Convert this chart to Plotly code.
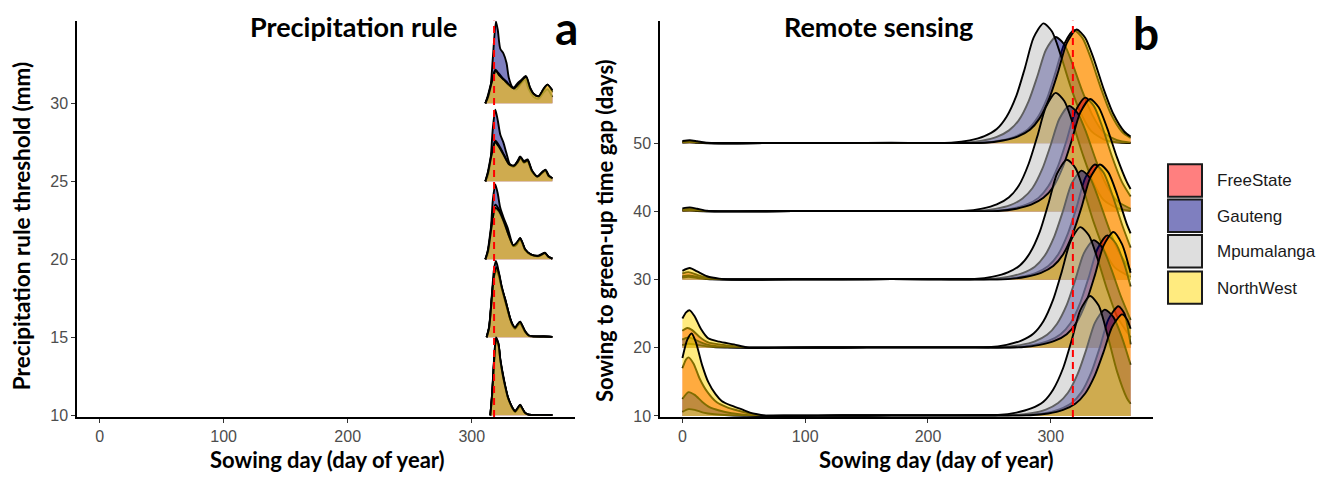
import plotly.graph_objects as go

W, H = 1325, 479

REGIONS = ["FreeState", "Gauteng", "Mpumalanga", "NorthWest"]
FILLS = ["rgba(255,0,0,0.5)", "rgba(0,0,128,0.5)", "rgba(190,190,190,0.5)", "rgba(255,215,0,0.5)"]

A_THRESHOLDS = [30, 25, 20, 15, 10]
B_GAPS = [50, 40, 30, 20, 10]
X_TICKS = [0, 100, 200, 300]
A_YTICKS = [10, 15, 20, 25, 30]
B_YTICKS = [10, 20, 30, 40, 50]
REF_DAY = 318

# ---- Panel a: precipitation rule, (day, density height) per region ----
A30_FS = [(311,0),(313,0.4),(316,1.3),(319,2.1),(322,1.9),(325,1.6),(328,1.4),(331,1.1),(334,1.0),(337,1.3),(340,1.5),(343,1.7),(346,1.0),(350,0.6),(354,0.45),(358,0.9),(361,1.2),(365,0.7)]
A30_GA = [(311,0),(313,0.3),(315,0.9),(317,2.9),(319.5,5.25),(321,4.7),(323,3.5),(325.5,3.2),(328,2.6),(330,1.6),(333,1.0),(336,0.9),(340,1.3),(343,1.5),(346,0.9),(350,0.4),(354,0.3),(358,0.7),(361,0.9),(365,0.4)]
A30_MP = [(311,0),(313,0.5),(316,1.4),(319,2.15),(322,1.85),(326,1.5),(330,1.15),(333,1.0),(336,1.05),(340,1.4),(343.5,1.75),(347,1.0),(350,0.6),(354,0.46),(358,0.9),(361,1.2),(365,0.8)]
A30_NW = [(311,0),(313,0.4),(316,1.3),(319.5,2.1),(322,1.8),(326,1.5),(330,1.2),(334,0.95),(337,1.2),(340,1.45),(344,1.7),(347,1.0),(350,0.6),(354,0.45),(358,0.95),(361,1.2),(365,0.85)]

A25_FS = [(311,0),(313,0.5),(316,1.6),(319,2.5),(322,2.2),(326,1.6),(330,1.15),(334,1.0),(337,1.3),(339,1.6),(342,1.3),(345,1.4),(348.5,0.7),(353,0.32),(357,0.6),(359.5,0.75),(362,0.4),(365,0.2)]
A25_GA = [(311,0),(313,0.3),(315,1.2),(317,3.4),(319,4.6),(321,3.9),(323,3.0),(325.5,2.5),(328,1.8),(331,1.05),(334,1.0),(337,1.3),(339,1.55),(342,1.2),(345,1.35),(348.5,0.6),(353,0.3),(357,0.6),(359,0.72),(362,0.3),(365,0.15)]
A25_MP = [(311,0),(313,0.6),(316,1.8),(319,2.6),(322,2.3),(326,1.7),(330,1.1),(334,0.95),(337,1.2),(339.5,1.5),(342,1.2),(345,1.3),(348.5,0.65),(353,0.3),(357,0.55),(359.5,0.7),(362,0.35),(365,0.2)]
A25_NW = [(311,0),(313,0.5),(316,1.7),(319,2.5),(322,2.2),(326,1.65),(330,1.1),(334,1.0),(337,1.25),(339.5,1.55),(342,1.25),(345,1.35),(348.5,0.7),(353,0.3),(357,0.6),(359.5,0.72),(362,0.35),(365,0.2)]

A20_FS = [(311,0),(313,0.5),(316,2.0),(319,3.2),(322,3.0),(326,2.3),(330,1.5),(333.5,0.9),(336,1.0),(339,1.3),(341,1.0),(343,0.65),(348,0.3),(354,0.22),(359,0.4),(362,0.15),(365,0.05)]
A20_GA = [(311,0),(313,0.3),(315,1.4),(317,3.8),(319,4.8),(321,4.2),(323,3.3),(326,2.6),(329,2.0),(331,1.45),(333.5,0.85),(336,0.9),(339,1.37),(341,1.0),(343,0.6),(348,0.3),(354,0.25),(359,0.42),(362,0.15),(365,0.05)]
A20_MP = [(311,0),(313,0.6),(316,2.3),(319,3.5),(322,3.2),(326,2.4),(330,1.5),(333.5,0.85),(336,0.95),(339,1.3),(341,1.0),(343,0.6),(348,0.28),(354,0.2),(359,0.38),(362,0.15),(365,0.05)]
A20_NW = [(311,0),(313,0.5),(316,2.1),(319,3.3),(322,3.1),(326,2.4),(330,1.5),(333.5,0.9),(336,1.05),(339,1.35),(341,1.05),(343,0.65),(348,0.3),(354,0.22),(359,0.4),(362,0.15),(365,0.05)]

A15_FS = [(312,0),(314,0.6),(316,2.3),(318,3.9),(320,4.4),(322,4.0),(324,3.3),(327,2.4),(329,1.8),(331,1.2),(333,0.8),(335,0.6),(337,0.8),(339,0.95),(341,0.7),(343,0.38),(346,0.12),(350,0.06),(358,0.05),(365,0.03)]
A15_GA = [(312,0),(314,0.6),(316,2.5),(318,4.4),(319.5,4.9),(321,4.5),(323,3.6),(325,2.9),(327,2.45),(329,1.8),(331,1.2),(333,0.8),(335,0.6),(337,0.8),(339,1.0),(341,0.7),(343,0.38),(346,0.12),(350,0.06),(358,0.05),(365,0.03)]
A15_MP = [(312,0),(314,0.7),(316,2.4),(318,3.9),(320,4.3),(322,3.9),(324,3.2),(327,2.3),(329,1.7),(331,1.15),(333,0.75),(335,0.55),(337,0.75),(339,0.9),(341,0.65),(343,0.35),(346,0.1),(350,0.05),(358,0.05),(365,0.03)]
A15_NW = [(312,0),(314,0.6),(316,2.3),(318,4.0),(320,4.5),(322,4.1),(324,3.3),(327,2.4),(329,1.8),(331,1.2),(333,0.8),(335,0.62),(337,0.85),(339,1.0),(341,0.72),(343,0.4),(346,0.12),(350,0.06),(358,0.05),(365,0.03)]

A10_FS = [(315,0),(316.5,1.4),(318,3.4),(319.6,4.8),(321.5,4.5),(323,3.5),(325,2.6),(327,1.8),(329,1.15),(331,0.75),(333,0.45),(335,0.25),(337,0.45),(339,0.65),(341,0.4),(343,0.15),(346,0.05),(355,0.03),(365,0.02)]
A10_GA = [(315,0),(316.5,1.5),(318,3.6),(319.6,5.0),(321.5,4.6),(323,3.5),(325,2.6),(327,1.83),(329,1.2),(331,0.78),(333,0.45),(335,0.25),(337,0.45),(339,0.67),(341,0.4),(343,0.15),(346,0.05),(355,0.03),(365,0.02)]
A10_MP = [(315,0),(316.5,1.3),(318,3.3),(319.6,4.7),(321.5,4.5),(323,3.6),(325,2.7),(327,1.9),(329,1.2),(331,0.75),(333,0.42),(335,0.22),(337,0.4),(339,0.6),(341,0.38),(343,0.14),(346,0.05),(355,0.03),(365,0.02)]
A10_NW = [(315,0),(316.5,1.4),(318,3.5),(319.6,4.9),(321.5,4.6),(323,3.6),(325,2.6),(327,1.85),(329,1.2),(331,0.78),(333,0.46),(335,0.26),(337,0.47),(339,0.68),(341,0.42),(343,0.16),(346,0.05),(355,0.03),(365,0.02)]

# ---- Panel b: remote sensing ----
B50_FS = [(0,0.25),(6,0.35),(12,0.2),(20,0.05),(45,0.02),(90,0.05),(130,0.05),(170,0.06),(210,0.06),(244,0.08),(259,0.42),(271,1.0),(281,2.0),(289,3.7),(297,6.6),(304,10.5),(311,14.6),(319,16.6),(326,15.4),(333,12.3),(341,8.0),(349,4.3),(358,1.7),(365,0.8)]
B50_GA = [(0,0.15),(6,0.2),(12,0.1),(20,0.03),(45,0.02),(90,0.05),(130,0.05),(170,0.07),(205,0.06),(229,0.08),(244,0.39),(256,0.94),(266,1.9),(274,3.4),(282,6.2),(289,9.8),(296,13.7),(304,15.6),(311,14.5),(318,11.5),(326,7.5),(334,4.1),(343,1.6),(354,0.47),(365,0.1)]
B50_MP = [(0,0.1),(6,0.15),(12,0.08),(20,0.02),(45,0.02),(90,0.05),(130,0.04),(170,0.08),(200,0.06),(219,0.1),(234,0.44),(246,1.06),(256,2.1),(264,3.9),(272,7.0),(279,11.1),(286,15.5),(294,17.6),(301,16.4),(308,13.0),(316,8.4),(324,4.6),(333,1.8),(344,0.5),(356,0.1),(365,0.03)]
B50_NW = [(0,0.35),(6,0.45),(12,0.3),(20,0.08),(30,0.02),(50,0.02),(90,0.05),(130,0.05),(170,0.07),(215,0.06),(246,0.08),(261,0.42),(273,1.0),(283,2.0),(291,3.7),(299,6.7),(306,10.5),(313,14.7),(321,16.7),(328,15.5),(335,12.4),(343,8.0),(351,4.3),(360,1.7),(365,1.0)]

B40_FS = [(0,0.3),(6,0.4),(12,0.25),(20,0.06),(45,0.02),(90,0.05),(130,0.05),(170,0.07),(225,0.06),(253,0.08),(268,0.42),(280,1.0),(290,2.0),(298,3.7),(306,6.7),(313,10.5),(320,14.7),(328,16.7),(335,15.5),(342,12.4),(350,8.0),(358,4.3),(365,2.2)]
B40_GA = [(0,0.2),(6,0.25),(12,0.15),(20,0.04),(45,0.02),(90,0.05),(130,0.05),(170,0.07),(215,0.06),(240,0.08),(255,0.39),(267,0.93),(277,1.9),(285,3.4),(293,6.2),(300,9.8),(307,13.6),(315,15.5),(322,14.4),(329,11.5),(337,7.4),(345,4.0),(354,1.55),(365,0.4)]
B40_MP = [(0,0.1),(6,0.15),(12,0.08),(20,0.02),(45,0.02),(90,0.05),(130,0.06),(170,0.08),(205,0.07),(229,0.09),(244,0.43),(256,1.04),(266,2.1),(274,3.8),(282,7.0),(289,11.0),(296,15.3),(304,17.4),(311,16.2),(318,12.9),(326,8.4),(334,4.5),(343,1.7),(354,0.5),(365,0.1)]
B40_NW = [(0,0.45),(6,0.6),(12,0.4),(20,0.1),(30,0.02),(50,0.02),(90,0.05),(130,0.05),(170,0.07),(230,0.06),(257,0.08),(272,0.41),(284,1.0),(294,2.0),(302,3.6),(310,6.6),(317,10.4),(324,14.5),(332,16.5),(339,15.3),(346,12.2),(354,7.9),(362,4.3),(365,3.3)]

B30_FS = [(0,0.9),(5,1.1),(12,0.7),(20,0.3),(30,0.08),(50,0.02),(90,0.05),(130,0.05),(170,0.07),(230,0.06),(261,0.08),(276,0.42),(288,1.0),(298,2.0),(306,3.7),(314,6.8),(321,10.6),(328,14.9),(336,16.9),(343,15.7),(350,12.5),(358,8.1),(365,4.7)]
B30_GA = [(0,0.5),(5,0.6),(12,0.4),(20,0.15),(30,0.04),(50,0.02),(90,0.05),(130,0.05),(170,0.07),(220,0.06),(250,0.08),(265,0.4),(277,0.96),(287,1.9),(295,3.5),(303,6.4),(310,10.1),(317,14.1),(325,16.0),(332,14.9),(339,11.8),(347,7.7),(355,4.2),(365,1.4)]
B30_MP = [(0,0.3),(5,0.4),(12,0.25),(20,0.08),(35,0.02),(90,0.05),(130,0.06),(170,0.08),(210,0.07),(238,0.09),(253,0.44),(265,1.06),(275,2.1),(283,3.9),(291,7.0),(298,11.1),(305,15.5),(313,17.6),(320,16.4),(327,13.0),(335,8.4),(343,4.6),(352,1.8),(365,0.4)]
B30_NW = [(0,1.3),(6,1.7),(12,1.2),(20,0.5),(30,0.15),(40,0.03),(60,0.02),(90,0.05),(130,0.05),(170,0.07),(235,0.06),(265,0.08),(280,0.42),(292,1.0),(302,2.0),(310,3.7),(318,6.8),(325,10.6),(332,14.9),(340,16.9),(347,15.7),(354,12.5),(362,8.1),(365,6.8)]

B20_FS = [(0,2.5),(4,2.9),(8,2.6),(14,1.6),(21,0.8),(30,0.5),(42,0.25),(53,0.03),(75,0.02),(110,0.05),(150,0.06),(190,0.07),(240,0.07),(271,0.08),(286,0.41),(298,1.0),(308,2.0),(316,3.6),(324,6.6),(331,10.4),(338,14.5),(346,16.5),(353,15.3),(360,12.2),(365,9.0)]
B20_GA = [(0,1.2),(4,1.5),(9,1.3),(15,0.8),(22,0.4),(32,0.2),(45,0.05),(70,0.02),(110,0.05),(150,0.06),(190,0.07),(230,0.07),(260,0.08),(275,0.4),(287,0.95),(297,1.9),(305,3.5),(313,6.3),(320,10.0),(327,13.9),(335,15.8),(342,14.7),(349,11.7),(357,7.6),(365,4.1)]
B20_MP = [(0,0.4),(5,0.6),(10,0.5),(17,0.3),(25,0.12),(40,0.03),(70,0.02),(110,0.05),(150,0.06),(190,0.07),(222,0.07),(249,0.09),(264,0.44),(276,1.06),(286,2.1),(294,3.9),(302,7.1),(309,11.2),(316,15.6),(324,17.7),(331,16.5),(338,13.1),(346,8.5),(354,4.6),(365,1.5)]
B20_NW = [(0,4.3),(3,5.2),(6,5.5),(10,4.6),(15,2.8),(21,1.4),(30,0.9),(42,0.5),(53,0.05),(75,0.02),(110,0.05),(150,0.06),(190,0.07),(245,0.07),(276,0.09),(291,0.43),(303,1.0),(313,2.0),(321,3.7),(329,6.8),(336,10.7),(343,15.0),(351,17.0),(358,15.2),(365,11.0)]

B10_FS = [(0,7.0),(3,8.3),(5,8.6),(9,7.7),(14,5.5),(20,3.6),(28,2.0),(36,1.3),(45,0.8),(55,0.35),(65,0.05),(90,0.04),(130,0.06),(170,0.08),(220,0.08),(255,0.1),(280,0.12),(295,0.4),(307,0.97),(317,1.9),(325,3.5),(333,6.4),(340,10.1),(347,14.2),(355,16.1),(360,15.0),(365,10.5)]
B10_GA = [(0,2.5),(5,3.5),(10,3.1),(16,2.1),(22,1.3),(30,0.8),(40,0.4),(52,0.15),(62,0.02),(90,0.04),(130,0.06),(170,0.08),(215,0.08),(245,0.1),(269,0.12),(284,0.39),(296,0.94),(306,1.9),(314,3.4),(322,6.2),(329,9.8),(336,13.7),(344,15.6),(351,14.5),(358,11.5),(365,7.5)]
B10_MP = [(0,0.6),(5,1.0),(10,0.9),(17,0.5),(26,0.25),(38,0.1),(55,0.02),(90,0.04),(130,0.06),(170,0.08),(210,0.08),(235,0.1),(257,0.15),(272,0.5),(284,1.1),(294,2.1),(302,3.9),(310,7.0),(317,11.1),(324,15.5),(332,17.6),(339,16.2),(346,12.0),(354,6.5),(362,2.6),(365,1.8)]
B10_NW = [(0,8.5),(4,11.2),(7.5,12.1),(11,10.8),(16,7.5),(21,5.0),(27,3.2),(32,2.2),(40,1.5),(48,1.0),(55,0.5),(61,0.25),(68,0.05),(90,0.04),(130,0.06),(170,0.08),(225,0.08),(260,0.1),(283,0.1),(298,0.37),(310,0.9),(320,1.8),(328,3.3),(336,6.0),(343,9.4),(350,13.1),(358,14.9),(362,14.2),(365,12.8)]

A_CURVES = {30: [A30_FS, A30_GA, A30_MP, A30_NW],
            25: [A25_FS, A25_GA, A25_MP, A25_NW],
            20: [A20_FS, A20_GA, A20_MP, A20_NW],
            15: [A15_FS, A15_GA, A15_MP, A15_NW],
            10: [A10_FS, A10_GA, A10_MP, A10_NW]}
B_CURVES = {50: [B50_FS, B50_GA, B50_MP, B50_NW],
            40: [B40_FS, B40_GA, B40_MP, B40_NW],
            30: [B30_FS, B30_GA, B30_MP, B30_NW],
            20: [B20_FS, B20_GA, B20_MP, B20_NW],
            10: [B10_FS, B10_GA, B10_MP, B10_NW]}

fig = go.Figure()


def add_curve(pts, base, fill, xa, ya):
    xs = [p[0] for p in pts]
    ys = [base + p[1] for p in pts]
    fig.add_trace(go.Scatter(x=[xs[0], xs[-1]], y=[base, base], mode="lines",
                             line=dict(width=0, color="rgba(0,0,0,0)"),
                             xaxis=xa, yaxis=ya, hoverinfo="skip", showlegend=False))
    fig.add_trace(go.Scatter(x=xs, y=ys, mode="lines", fill="tonexty", fillcolor=fill,
                             line=dict(width=0, shape="spline", smoothing=0.7, color="rgba(0,0,0,0)"),
                             xaxis=xa, yaxis=ya, hoverinfo="skip", showlegend=False))
    fig.add_trace(go.Scatter(x=xs, y=ys, mode="lines",
                             line=dict(width=1.9, shape="spline", smoothing=0.7, color="black"),
                             xaxis=xa, yaxis=ya, hoverinfo="skip", showlegend=False))


for t in A_THRESHOLDS:
    for pts, fill in zip(A_CURVES[t], FILLS):
        add_curve(pts, t, fill, "x", "y")
for g in B_GAPS:
    for pts, fill in zip(B_CURVES[g], FILLS):
        add_curve(pts, g, fill, "x2", "y2")

# plot-area geometry in pixels
AX0, AX1 = 77, 575
BX0, BX1 = 660, 1153
PY0, PY1 = 21, 424

tickfont = dict(family="Liberation Sans", size=16, color="#4D4D4D")
axis_common = dict(showgrid=False, zeroline=False, showline=True, linecolor="black", linewidth=1.5,
                   ticks="outside", ticklen=4, tickwidth=1.2, tickcolor="#333333", tickfont=tickfont)

fig.update_layout(
    width=W, height=H, margin=dict(l=0, r=0, t=0, b=0),
    paper_bgcolor="white", plot_bgcolor="white", showlegend=False,
    xaxis=dict(domain=[AX0 / W, AX1 / W], range=[-18.25, 383.25], tickvals=X_TICKS, anchor="y", **axis_common),
    yaxis=dict(domain=[1 - PY1 / H, 1 - PY0 / H], range=[9.9, 35.3], tickvals=A_YTICKS, anchor="x", **axis_common),
    xaxis2=dict(domain=[BX0 / W, BX1 / W], range=[-18.25, 383.25], tickvals=X_TICKS, anchor="y2", **axis_common),
    yaxis2=dict(domain=[1 - PY1 / H, 1 - PY0 / H], range=[9.86, 68.0], tickvals=B_YTICKS, anchor="x2", **axis_common),
)

# reference (red dashed) lines
for xr, yr in (("x", "y domain"), ("x2", "y2 domain")):
    fig.add_shape(type="line", xref=xr, yref=yr, x0=REF_DAY, x1=REF_DAY, y0=0, y1=1,
                  line=dict(color="#FF0000", width=2, dash="7px,5px"), layer="above")

bold = "Lato"


def ann(text, px, py, size, angle=0, family=bold, color="black"):
    fig.add_annotation(text=text, xref="paper", yref="paper", x=px / W, y=1 - py / H,
                       showarrow=False, xanchor="center", yanchor="middle", textangle=angle,
                       font=dict(family=family, size=size, color=color))


ann("<b>Precipitation rule</b>", 353, 27, 27)
ann("<b>a</b>", 566, 28, 46)
ann("<b>Remote sensing</b>", 878, 27, 27)
ann("<b>b</b>", 1146, 33, 46)
ann("<b>Sowing day (day of year)</b>", 327, 467, 22)
ann("<b>Sowing day (day of year)</b>", 936, 467, 22)
ann("<b>Precipitation rule threshold (mm)</b>", 21, 230, 22.5, angle=-90)
ann("<b>Sowing to green-up time gap (days)</b>", 604, 235, 22, angle=-90)

# legend
LEG_TOPS = [167, 203, 239, 276]
for name, fill, top in zip(REGIONS, FILLS, LEG_TOPS):
    fig.add_shape(type="rect", xref="paper", yref="paper",
                  x0=1168 / W, x1=1202 / W, y0=1 - (top + 33) / H, y1=1 - top / H,
                  fillcolor=fill, line=dict(color="#1a1a1a", width=2))
    fig.add_annotation(text=name, xref="paper", yref="paper", x=1215 / W, y=1 - (top + 17) / H,
                       showarrow=False, xanchor="left", yanchor="middle",
                       font=dict(family="Liberation Sans", size=17, color="#1A1A1A"))

fig.write_html("out.html")
